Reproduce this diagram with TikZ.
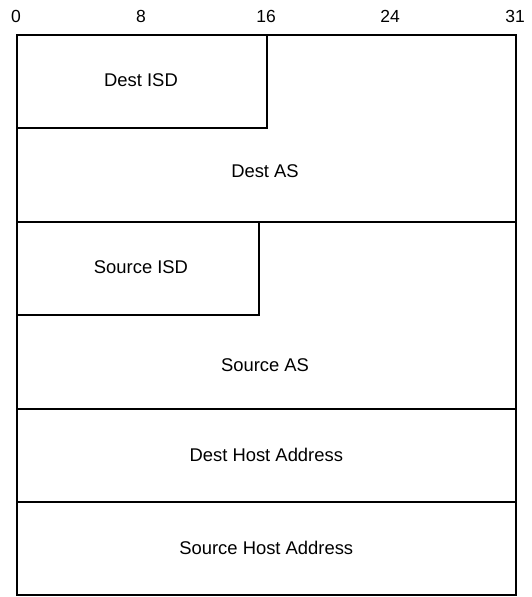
\documentclass[tikz,border=0pt]{standalone}
\usepackage{fontspec}
\setmainfont{Liberation Sans}
\begin{document}
\begin{tikzpicture}[x=1pt,y=-1pt,
  field/.style={draw=black,line width=1.6pt,inner sep=0pt,anchor=north west},
  label/.style={font=\fontsize{18.4}{22}\selectfont,inner sep=0pt},
  bit/.style={font=\fontsize{17.5}{20}\selectfont,inner sep=0pt}]
  \useasboundingbox (0,0) rectangle (532,597);
  % bit ruler
  \node[bit] (b0)  at (16,16)  {0};
  \node[bit] (b8)  at (141,16) {8};
  \node[bit] (b16) at (266,16) {16};
  \node[bit] (b24) at (390,16) {24};
  \node[bit] (b31) at (515,16) {31};
  % rows 1-2: destination ISD-AS
  \node[field,minimum width=499pt,minimum height=187pt] (dstrow) at (16,34) {};
  \node[field,minimum width=250pt,minimum height=93pt] (dstisd) at (16,34) {};
  \node[label] at (141,80.5) {Dest ISD};
  \node[label] (dstas) at (265,171) {Dest AS};
  % rows 3-4: source ISD-AS
  \node[field,minimum width=499pt,minimum height=187pt] (srcrow) at (16,221) {};
  \node[field,minimum width=242pt,minimum height=93pt] (srcisd) at (16,221) {};
  \node[label] at (141,267.5) {Source ISD};
  \node[label] (srcas) at (265,365) {Source AS};
  % host addresses
  \node[field,minimum width=499pt,minimum height=93pt] (dsthost) at (16,408) {};
  \node[label] at (dsthost.center) {Dest Host Address};
  \node[field,minimum width=499pt,minimum height=93pt] (srchost) at (16,501) {};
  \node[label] at (srchost.center) {Source Host Address};
\end{tikzpicture}
\end{document}
